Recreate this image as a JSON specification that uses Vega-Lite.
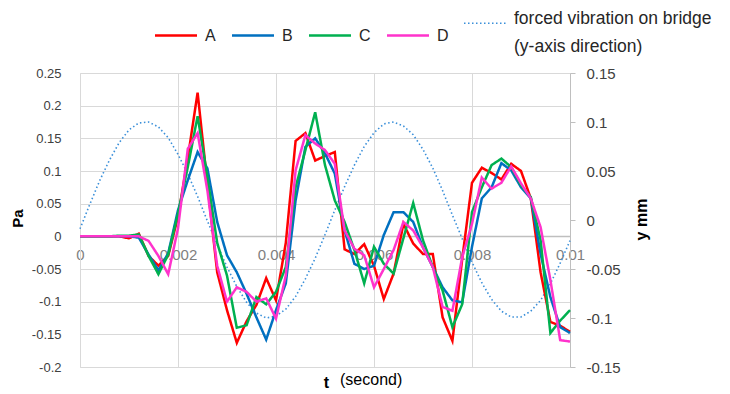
{
  "$schema": "https://vega.github.io/schema/vega-lite/v6.json",
  "width": 490,
  "height": 294,
  "autosize": "none",
  "padding": {"left": 80, "top": 73, "right": 160, "bottom": 27},
  "background": "white",
  "config": {"view": {"stroke": null}, "font": "Liberation Sans"},
  "title": {"text": "(second)", "orient": "bottom", "anchor": "start", "frame": "group", "dx": 260, "dy": -10, "offset": 0, "baseline": "middle", "fontSize": 16, "fontWeight": "normal", "color": "#000000", "font": "Liberation Sans"},
  "data": {"values": [
    {"t": 0, "A": 0, "B": 0, "C": 0, "D": 0, "vib": -0.009},
    {"t": 0.0002, "A": 0, "B": 0, "C": 0, "D": 0, "vib": 0.016},
    {"t": 0.0004, "A": 0, "B": 0, "C": 0, "D": 0, "vib": 0.040},
    {"t": 0.0006, "A": 0, "B": 0, "C": 0, "D": 0, "vib": 0.061},
    {"t": 0.0008, "A": 0, "B": 0, "C": 0.001, "D": 0, "vib": 0.079},
    {"t": 0.001, "A": -0.003, "B": 0, "C": 0.001, "D": 0, "vib": 0.092},
    {"t": 0.0012, "A": 0.004, "B": -0.002, "C": 0.003, "D": 0, "vib": 0.099},
    {"t": 0.0014, "A": -0.03, "B": -0.028, "C": -0.03, "D": -0.007, "vib": 0.100},
    {"t": 0.0016, "A": -0.045, "B": -0.052, "C": -0.058, "D": -0.03, "vib": 0.095},
    {"t": 0.0018, "A": -0.03, "B": -0.026, "C": -0.028, "D": -0.058, "vib": 0.084},
    {"t": 0.002, "A": 0.03, "B": 0.04, "C": 0.035, "D": 0.012, "vib": 0.067},
    {"t": 0.0022, "A": 0.12, "B": 0.086, "C": 0.106, "D": 0.134, "vib": 0.047},
    {"t": 0.0024, "A": 0.22, "B": 0.129, "C": 0.184, "D": 0.158, "vib": 0.024},
    {"t": 0.0026, "A": 0.08, "B": 0.104, "C": 0.091, "D": 0.07, "vib": -0.001},
    {"t": 0.0028, "A": -0.055, "B": 0.022, "C": -0.01, "D": -0.045, "vib": -0.025},
    {"t": 0.003, "A": -0.113, "B": -0.029, "C": -0.06, "D": -0.1, "vib": -0.048},
    {"t": 0.0032, "A": -0.163, "B": -0.055, "C": -0.14, "D": -0.078, "vib": -0.068},
    {"t": 0.0034, "A": -0.13, "B": -0.088, "C": -0.136, "D": -0.085, "vib": -0.084},
    {"t": 0.0036, "A": -0.105, "B": -0.124, "C": -0.093, "D": -0.1, "vib": -0.095},
    {"t": 0.0038, "A": -0.064, "B": -0.158, "C": -0.104, "D": -0.095, "vib": -0.100},
    {"t": 0.004, "A": -0.098, "B": -0.113, "C": -0.085, "D": -0.126, "vib": -0.098},
    {"t": 0.0042, "A": -0.01, "B": -0.072, "C": -0.047, "D": -0.06, "vib": -0.091},
    {"t": 0.0044, "A": 0.146, "B": 0.055, "C": 0.075, "D": 0.101, "vib": -0.078},
    {"t": 0.0046, "A": 0.158, "B": 0.137, "C": 0.132, "D": 0.155, "vib": -0.060},
    {"t": 0.0048, "A": 0.116, "B": 0.15, "C": 0.19, "D": 0.142, "vib": -0.039},
    {"t": 0.005, "A": 0.123, "B": 0.127, "C": 0.109, "D": 0.132, "vib": -0.015},
    {"t": 0.0052, "A": 0.129, "B": 0.096, "C": 0.055, "D": 0.111, "vib": 0.010},
    {"t": 0.0054, "A": -0.02, "B": 0.009, "C": 0.022, "D": 0.009, "vib": 0.034},
    {"t": 0.0056, "A": -0.027, "B": -0.042, "C": -0.021, "D": -0.019, "vib": 0.056},
    {"t": 0.0058, "A": -0.012, "B": -0.05, "C": -0.072, "D": -0.029, "vib": 0.075},
    {"t": 0.006, "A": -0.045, "B": -0.045, "C": -0.016, "D": -0.078, "vib": 0.089},
    {"t": 0.0062, "A": -0.096, "B": 0.002, "C": -0.042, "D": -0.05, "vib": 0.098},
    {"t": 0.0064, "A": -0.057, "B": 0.037, "C": -0.057, "D": -0.021, "vib": 0.100},
    {"t": 0.0066, "A": 0.019, "B": 0.037, "C": -0.003, "D": 0.022, "vib": 0.096},
    {"t": 0.0068, "A": -0.011, "B": 0.022, "C": 0.051, "D": 0.009, "vib": 0.087},
    {"t": 0.007, "A": -0.027, "B": -0.017, "C": -0.006, "D": -0.017, "vib": 0.072},
    {"t": 0.0072, "A": -0.027, "B": -0.047, "C": -0.047, "D": -0.047, "vib": 0.053},
    {"t": 0.0074, "A": -0.124, "B": -0.078, "C": -0.083, "D": -0.108, "vib": 0.030},
    {"t": 0.0076, "A": -0.16, "B": -0.098, "C": -0.139, "D": -0.114, "vib": 0.005},
    {"t": 0.0078, "A": -0.035, "B": -0.101, "C": -0.104, "D": -0.032, "vib": -0.019},
    {"t": 0.008, "A": 0.082, "B": -0.016, "C": 0.037, "D": 0.019, "vib": -0.043},
    {"t": 0.0082, "A": 0.105, "B": 0.058, "C": 0.075, "D": 0.09, "vib": -0.064},
    {"t": 0.0084, "A": 0.097, "B": 0.075, "C": 0.109, "D": 0.073, "vib": -0.081},
    {"t": 0.0086, "A": 0.087, "B": 0.112, "C": 0.119, "D": 0.082, "vib": -0.093},
    {"t": 0.0088, "A": 0.111, "B": 0.101, "C": 0.106, "D": 0.107, "vib": -0.099},
    {"t": 0.009, "A": 0.1, "B": 0.075, "C": 0.078, "D": 0.081, "vib": -0.099},
    {"t": 0.0092, "A": 0.058, "B": 0.058, "C": 0.06, "D": 0.058, "vib": -0.093},
    {"t": 0.0094, "A": -0.055, "B": -0.027, "C": -0.006, "D": 0.014, "vib": -0.082},
    {"t": 0.0096, "A": -0.131, "B": -0.093, "C": -0.148, "D": -0.067, "vib": -0.065},
    {"t": 0.0098, "A": -0.137, "B": -0.139, "C": -0.129, "D": -0.159, "vib": -0.044},
    {"t": 0.01, "A": -0.146, "B": -0.148, "C": -0.113, "D": -0.161, "vib": -0.021}
  ]},
  "encoding": {
    "x": {
      "field": "t", "type": "quantitative",
      "scale": {"domain": [0, 0.01], "nice": false, "zero": false},
      "axis": {
        "values": [0, 0.002, 0.004, 0.006, 0.008, 0.01],
        "labelExpr": "'' + round(datum.value * 10000) / 10000",
        "offset": -131,
        "grid": true, "gridColor": "#d9d9d9", "gridWidth": 1,
        "domainColor": "#bfbfbf", "domainWidth": 1.5,
        "ticks": false,
        "labelColor": "#7f7f7f", "labelFontSize": 15, "labelPadding": 11,
        "labelFlush": false, "labelOverlap": false, "labelAlign": "center",
        "title": "t", "titleFontSize": 16, "titleFontWeight": "bold", "titleColor": "#000000",
        "titleX": 246, "titleY": 146, "titleAlign": "center", "titleBaseline": "middle"
      }
    }
  },
  "layer": [
    {
      "transform": [{"fold": ["vib"], "as": ["series", "value"]}],
      "mark": {"type": "line", "strokeWidth": 1.6, "strokeCap": "butt"},
      "encoding": {
        "y": {
          "field": "value", "type": "quantitative",
          "scale": {"domain": [-0.15, 0.15], "nice": false, "zero": false},
          "axis": {
            "orient": "right",
            "values": [-0.15, -0.1, -0.05, 0, 0.05, 0.1, 0.15],
            "labelExpr": "'' + round(datum.value * 100) / 100",
            "grid": false, "domainColor": "#bfbfbf", "tickColor": "#bfbfbf", "tickSize": 5,
            "labelFontSize": 15, "labelPadding": 11, "labelColor": "#404040",
            "title": "y mm", "titleFontSize": 16, "titleFontWeight": "bold", "titleColor": "#000000",
            "titleAngle": 270, "titleX": 71, "titleY": 146, "titleAlign": "center", "titleBaseline": "middle"
          }
        },
        "color": {
          "field": "series", "type": "nominal",
          "scale": {"domain": ["A", "B", "C", "D", "vib"], "range": ["#ff0000", "#0070c0", "#00b050", "#ff33cc", "#3a8fd9"]}
        },
        "strokeDash": {
          "field": "series", "type": "nominal",
          "scale": {"domain": ["A", "B", "C", "D", "vib"], "range": [[1, 0], [1, 0], [1, 0], [1, 0], [1.5, 2.5]]}
        }
      }
    },
    {
      "transform": [{"fold": ["A", "B", "C", "D"], "as": ["series", "value"]}],
      "mark": {"type": "line", "strokeWidth": 2.5},
      "encoding": {
        "y": {
          "field": "value", "type": "quantitative",
          "scale": {"domain": [-0.2, 0.25], "nice": false, "zero": false},
          "axis": {
            "orient": "left",
            "values": [-0.2, -0.15, -0.1, -0.05, 0, 0.05, 0.1, 0.15, 0.2, 0.25],
            "labelExpr": "'' + round(datum.value * 100) / 100",
            "grid": true, "gridColor": "#d9d9d9", "gridWidth": 1,
            "domainColor": "#d9d9d9", "ticks": false,
            "labelFontSize": 13, "labelPadding": 19, "labelColor": "#404040",
            "title": "Pa", "titleFontSize": 15, "titleFontWeight": "bold", "titleColor": "#000000",
            "titleAngle": 270, "titleX": -63, "titleY": 145, "titleAlign": "center", "titleBaseline": "middle"
          }
        },
        "color": {
          "field": "series", "type": "nominal",
          "scale": {"domain": ["A", "B", "C", "D", "vib"], "range": ["#ff0000", "#0070c0", "#00b050", "#ff33cc", "#3a8fd9"]},
          "legend": {
            "orient": "none", "legendX": 88, "legendY": -58, "direction": "horizontal",
            "title": null, "symbolType": "stroke", "symbolStrokeWidth": 2.5, "symbolSize": 1764,
            "labelFontSize": 16, "labelColor": "#262626", "labelLimit": 0,
            "labelExpr": "datum.label == 'vib' ? ['forced vibration on bridge', '(y-axis direction)'] : datum.label",
            "columnPadding": 11, "labelOffset": 21, "padding": 0,
            "encode": {
              "symbols": {"update": {"strokeWidth": {"signal": "datum.value === 'vib' ? 1.6 : 2.5"}}},
              "labels": {"update": {"lineHeight": {"value": 28}, "fontSize": {"signal": "datum.value === 'vib' ? 17.5 : 16"}, "dy": {"signal": "datum.value === 'vib' ? -4 : 0"}}}
            }
          }
        },
        "strokeDash": {
          "field": "series", "type": "nominal",
          "scale": {"domain": ["A", "B", "C", "D", "vib"], "range": [[1, 0], [1, 0], [1, 0], [1, 0], [1.5, 2.5]]},
          "legend": {
            "orient": "none", "legendX": 88, "legendY": -58, "direction": "horizontal",
            "title": null, "symbolType": "stroke", "symbolStrokeWidth": 2.5, "symbolSize": 1764,
            "labelFontSize": 16, "labelColor": "#262626", "labelLimit": 0,
            "labelExpr": "datum.label == 'vib' ? ['forced vibration on bridge', '(y-axis direction)'] : datum.label",
            "columnPadding": 11, "labelOffset": 21, "padding": 0
          }
        }
      }
    }
  ],
  "resolve": {"scale": {"y": "independent"}, "axis": {"y": "independent"}}
}
